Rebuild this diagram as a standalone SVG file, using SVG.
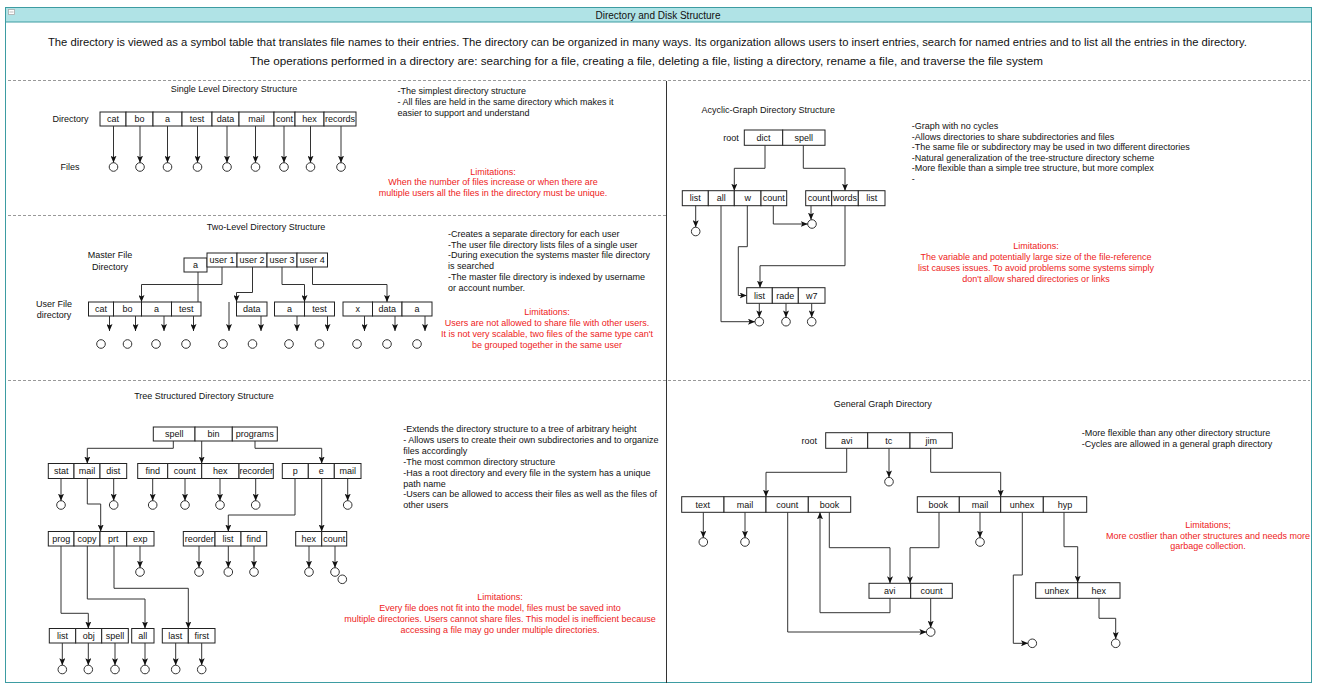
<svg xmlns="http://www.w3.org/2000/svg" width="1317" height="685" viewBox="0 0 1317 685">
<style>
text{font-family:"Liberation Sans",Arial,sans-serif}
.box{fill:#fff;stroke:#222;stroke-width:1}
.lbl{font-size:9px;fill:#111;text-anchor:middle;dominant-baseline:central}
.desc{font-size:9px;fill:#111;dominant-baseline:central}
.lim{font-size:9px;fill:#ee2222;text-anchor:middle;dominant-baseline:central}
.ttl{font-size:9px;fill:#111;text-anchor:middle;dominant-baseline:central}
.con{fill:none;stroke:#333;stroke-width:1}
.arr{marker-end:url(#ah)}
.file{fill:#fff;stroke:#333;stroke-width:1}
.sep{stroke:#999;stroke-width:1;stroke-dasharray:3 2}
.body{font-size:11.4px;fill:#111;dominant-baseline:central}
</style>
<defs>
<marker id="ah" viewBox="0 0 7 6" markerWidth="7" markerHeight="6" refX="7" refY="3" orient="auto" markerUnits="userSpaceOnUse">
<path d="M0,0 L7,3 L0,6 L1.6,3 Z" fill="#111"/>
</marker>
</defs>
<rect x="0" y="0" width="1317" height="685" fill="#fff"/>
<g id="container">
<rect x="5.5" y="7.5" width="1306" height="675" fill="#fff" stroke="#3d9ca2" stroke-width="1"/>
<rect x="5.5" y="7.5" width="1306" height="14.5" fill="#b0e3e6" stroke="#3d9ca2" stroke-width="1"/>
<rect x="8.5" y="9.5" width="6" height="5" fill="#fff" stroke="#aaa" stroke-width="0.8"/>
<line x1="9.5" y1="12" x2="13.5" y2="12" stroke="#aaa" stroke-width="0.8"/>
<text x="658" y="15" style="font-size:10px;fill:#111;text-anchor:middle;dominant-baseline:central">Directory and Disk Structure</text>
<text class="body" x="48" y="42" textLength="1199" lengthAdjust="spacingAndGlyphs">The directory is viewed as a symbol table that translates file names to their entries. The directory can be organized in many ways. Its organization allows users to insert entries, search for named entries and to list all the entries in the directory.</text>
<text class="body" x="250" y="61" textLength="793" lengthAdjust="spacingAndGlyphs">The operations performed in a directory are: searching for a file, creating a file, deleting a file, listing a directory, rename a file, and traverse the file system</text>
<line class="sep" x1="8" y1="80.5" x2="1310" y2="80.5"/>
<line class="sep" x1="8" y1="215.5" x2="666" y2="215.5"/>
<line class="sep" x1="8" y1="380.5" x2="1310" y2="380.5"/>
<line x1="666.5" y1="81" x2="666.5" y2="683" stroke="#333" stroke-width="1"/>
</g>

<!-- ============ Single Level ============ -->
<g id="single-level-text">
<text class="ttl" x="234" y="89">Single Level Directory Structure</text>
<text class="lbl" x="70.5" y="119">Directory</text>
<text class="lbl" x="70" y="167">Files</text>
<text class="desc" x="397.5" y="90.7">-The simplest directory structure</text>
<text class="desc" x="397.5" y="101.7">- All files are held in the same directory which  makes it</text>
<text class="desc" x="397.5" y="112.7">easier to support and understand</text>
<text class="lim" x="493" y="171.5">Limitations:</text>
<text class="lim" x="493" y="182.3">When the number of files increase or when there are</text>
<text class="lim" x="493" y="193.2">multiple users all the files in the directory must be unique.</text>
</g>
<g id="single-dir">
<rect class="box" x="100" y="112" width="26" height="14"/><text class="lbl" x="113" y="119">cat</text>
<rect class="box" x="126" y="112" width="27" height="14"/><text class="lbl" x="139.5" y="119">bo</text>
<rect class="box" x="153" y="112" width="29" height="14"/><text class="lbl" x="167.5" y="119">a</text>
<rect class="box" x="182" y="112" width="30" height="14"/><text class="lbl" x="197" y="119">test</text>
<rect class="box" x="212" y="112" width="27" height="14"/><text class="lbl" x="225.5" y="119">data</text>
<rect class="box" x="239" y="112" width="35" height="14"/><text class="lbl" x="256.5" y="119">mail</text>
<rect class="box" x="274" y="112" width="21" height="14"/><text class="lbl" x="284.5" y="119">cont</text>
<rect class="box" x="295" y="112" width="29" height="14"/><text class="lbl" x="309.5" y="119">hex</text>
<rect class="box" x="324" y="112" width="32" height="14"/><text class="lbl" x="340" y="119">records</text>
</g>
<g id="single-files">
<circle class="file" cx="113.5" cy="167" r="4.3"/>
<circle class="file" cx="140" cy="167" r="4.3"/>
<circle class="file" cx="167.5" cy="167" r="4.3"/>
<circle class="file" cx="197.5" cy="167" r="4.3"/>
<circle class="file" cx="227" cy="167" r="4.3"/>
<circle class="file" cx="255.5" cy="167" r="4.3"/>
<circle class="file" cx="284" cy="167" r="4.3"/>
<circle class="file" cx="310.5" cy="167" r="4.3"/>
<circle class="file" cx="341" cy="167" r="4.3"/>
</g>

<!-- ============ Two Level ============ -->
<g id="two-level-text">
<text class="ttl" x="266" y="227">Two-Level Directory Structure</text>
<text class="lbl" x="110" y="255">Master File</text>
<text class="lbl" x="110" y="266.5">Directory</text>
<text class="lbl" x="54" y="304">User File</text>
<text class="lbl" x="54" y="315">directory</text>
<text class="desc" x="448"><tspan x="448" y="234">-Creates a separate directory for each user</tspan><tspan x="448" y="244.7">-The user file directory lists files of a single user</tspan><tspan x="448" y="255.4">-During execution the systems master file directory</tspan><tspan x="448" y="266.1">is searched</tspan><tspan x="448" y="276.8">-The  master file directory is indexed by username</tspan><tspan x="448" y="287.5">or account number.</tspan></text>
<text class="lim" x="547" y="312">Limitations:</text>
<text class="lim" x="547" y="323">Users are not allowed to share file with other users.</text>
<text class="lim" x="547" y="334">It is not very scalable, two files of the same type can't</text>
<text class="lim" x="547" y="344.7">be grouped together in the same user</text>
</g>
<g id="mfd-a">
<rect class="box" x="184" y="258" width="23" height="14"/><text class="lbl" x="195.5" y="265">a</text>
</g>
<g id="mfd-users">
<rect class="box" x="207" y="253" width="30" height="14"/><text class="lbl" x="222" y="260">user 1</text>
<rect class="box" x="237" y="253" width="30" height="14"/><text class="lbl" x="252" y="260">user 2</text>
<rect class="box" x="267" y="253" width="30" height="14"/><text class="lbl" x="282" y="260">user 3</text>
<rect class="box" x="297" y="253" width="30.5" height="14"/><text class="lbl" x="312.2" y="260">user 4</text>
</g>
<g id="ufd-1">
<rect class="box" x="88.5" y="302" width="25" height="14"/><text class="lbl" x="101" y="309">cat</text>
<rect class="box" x="113.5" y="302" width="28" height="14"/><text class="lbl" x="127.5" y="309">bo</text>
<rect class="box" x="141.5" y="302" width="30" height="14"/><text class="lbl" x="156.5" y="309">a</text>
<rect class="box" x="171.5" y="302" width="29.5" height="14"/><text class="lbl" x="186.2" y="309">test</text>
</g>
<g id="ufd-2">
<rect class="box" x="236.5" y="302" width="30.5" height="14"/><text class="lbl" x="251.7" y="309">data</text>
</g>
<g id="ufd-3">
<rect class="box" x="274.5" y="302" width="30" height="14"/><text class="lbl" x="289.5" y="309">a</text>
<rect class="box" x="304.5" y="302" width="30" height="14"/><text class="lbl" x="319.5" y="309">test</text>
</g>
<g id="ufd-4">
<rect class="box" x="343" y="302" width="29.5" height="14"/><text class="lbl" x="357.7" y="309">x</text>
<rect class="box" x="372.5" y="302" width="29.5" height="14"/><text class="lbl" x="387.2" y="309">data</text>
<rect class="box" x="402" y="302" width="30" height="14"/><text class="lbl" x="417" y="309">a</text>
</g>
<g id="two-level-files">
<circle class="file" cx="101" cy="344" r="4.3"/>
<circle class="file" cx="127.5" cy="344" r="4.3"/>
<circle class="file" cx="156" cy="344" r="4.3"/>
<circle class="file" cx="186" cy="344" r="4.3"/>
<circle class="file" cx="223" cy="344" r="4.3"/>
<circle class="file" cx="252.5" cy="344" r="4.3"/>
<circle class="file" cx="289" cy="344" r="4.3"/>
<circle class="file" cx="319.5" cy="344" r="4.3"/>
<circle class="file" cx="357" cy="344" r="4.3"/>
<circle class="file" cx="387" cy="344" r="4.3"/>
<circle class="file" cx="417" cy="344" r="4.3"/>
</g>

<!-- ============ Tree ============ -->
<g id="tree-text">
<text class="ttl" x="204" y="395.5">Tree Structured Directory Structure</text>
<text class="desc" x="403.3"><tspan x="403.3" y="429">-Extends the directory structure to a tree of arbitrary height</tspan><tspan x="403.3" y="439.9">- Allows users to create their own subdirectories and to organize</tspan><tspan x="403.3" y="450.8">files accordingly</tspan><tspan x="403.3" y="461.7">-The most common directory structure</tspan><tspan x="403.3" y="472.6">-Has a root directory and every file in the system has a unique</tspan><tspan x="403.3" y="483.5">path name</tspan><tspan x="403.3" y="494.4">-Users can be allowed to access their files as well as the files of</tspan><tspan x="403.3" y="505.3">other users</tspan></text>
<text class="lim" x="500" y="596.7">Limitations:</text>
<text class="lim" x="500" y="608">Every file does not fit into the model, files must be saved into</text>
<text class="lim" x="500" y="619">multiple directories. Users cannot share files. This model is inefficient because</text>
<text class="lim" x="500" y="630">accessing a file may go under multiple directories.</text>
</g>
<g id="tree-root">
<rect class="box" x="153.3" y="427" width="41.7" height="14"/><text class="lbl" x="174.2" y="434">spell</text>
<rect class="box" x="195" y="427" width="37.3" height="14"/><text class="lbl" x="213.6" y="434">bin</text>
<rect class="box" x="232.3" y="427" width="45" height="14"/><text class="lbl" x="254.8" y="434">programs</text>
</g>
<g id="tree-spell">
<rect class="box" x="48.3" y="463.5" width="25.7" height="15"/><text class="lbl" x="61.2" y="471">stat</text>
<rect class="box" x="74" y="463.5" width="26" height="15"/><text class="lbl" x="87" y="471">mail</text>
<rect class="box" x="100" y="463.5" width="26.7" height="15"/><text class="lbl" x="113.3" y="471">dist</text>
</g>
<g id="tree-bin">
<rect class="box" x="137.7" y="463.5" width="30" height="15"/><text class="lbl" x="152.7" y="471">find</text>
<rect class="box" x="167.7" y="463.5" width="34" height="15"/><text class="lbl" x="184.7" y="471">count</text>
<rect class="box" x="201.7" y="463.5" width="37.3" height="15"/><text class="lbl" x="220.3" y="471">hex</text>
<rect class="box" x="239" y="463.5" width="34.3" height="15"/><text class="lbl" x="256.2" y="471">recorder</text>
</g>
<g id="tree-programs">
<rect class="box" x="282.3" y="463.5" width="26" height="15"/><text class="lbl" x="295.3" y="471">p</text>
<rect class="box" x="308.3" y="463.5" width="26" height="15"/><text class="lbl" x="321.3" y="471">e</text>
<rect class="box" x="334.3" y="463.5" width="26.7" height="15"/><text class="lbl" x="347.7" y="471">mail</text>
</g>
<g id="tree-mail">
<rect class="box" x="48.3" y="531.5" width="25.7" height="14.5"/><text class="lbl" x="61.2" y="538.8">prog</text>
<rect class="box" x="74" y="531.5" width="26" height="14.5"/><text class="lbl" x="87" y="538.8">copy</text>
<rect class="box" x="100" y="531.5" width="26.7" height="14.5"/><text class="lbl" x="113.3" y="538.8">prt</text>
<rect class="box" x="126.7" y="531.5" width="27.3" height="14.5"/><text class="lbl" x="140.3" y="538.8">exp</text>
</g>
<g id="tree-p">
<rect class="box" x="183.3" y="531.5" width="31.7" height="14.5"/><text class="lbl" x="199.2" y="538.8">reorder</text>
<rect class="box" x="215" y="531.5" width="26" height="14.5"/><text class="lbl" x="228" y="538.8">list</text>
<rect class="box" x="241" y="531.5" width="25.7" height="14.5"/><text class="lbl" x="253.8" y="538.8">find</text>
</g>
<g id="tree-e">
<rect class="box" x="295.7" y="531.5" width="26" height="14.5"/><text class="lbl" x="308.7" y="538.8">hex</text>
<rect class="box" x="321.7" y="531.5" width="25" height="14.5"/><text class="lbl" x="334.2" y="538.8">count</text>
</g>
<g id="tree-prog">
<rect class="box" x="49.3" y="628.5" width="26.4" height="14.5"/><text class="lbl" x="62.5" y="635.8">list</text>
<rect class="box" x="75.7" y="628.5" width="26" height="14.5"/><text class="lbl" x="88.7" y="635.8">obj</text>
<rect class="box" x="101.7" y="628.5" width="26.6" height="14.5"/><text class="lbl" x="115" y="635.8">spell</text>
</g>
<g id="tree-copy">
<rect class="box" x="131.7" y="628.5" width="22.3" height="14.5"/><text class="lbl" x="142.8" y="635.8">all</text>
</g>
<g id="tree-prt">
<rect class="box" x="162.3" y="628.5" width="26" height="14.5"/><text class="lbl" x="175.3" y="635.8">last</text>
<rect class="box" x="188.3" y="628.5" width="26.7" height="14.5"/><text class="lbl" x="201.7" y="635.8">first</text>
</g>
<g id="tree-files">
<circle class="file" cx="61" cy="505" r="4.3"/>
<circle class="file" cx="113.7" cy="505" r="4.3"/>
<circle class="file" cx="152.7" cy="505" r="4.3"/>
<circle class="file" cx="185" cy="505" r="4.3"/>
<circle class="file" cx="220" cy="505" r="4.3"/>
<circle class="file" cx="255.7" cy="505" r="4.3"/>
<circle class="file" cx="347.7" cy="505" r="4.3"/>
<circle class="file" cx="140" cy="572" r="4.3"/>
<circle class="file" cx="199" cy="572" r="4.3"/>
<circle class="file" cx="228.3" cy="572" r="4.3"/>
<circle class="file" cx="254" cy="572" r="4.3"/>
<circle class="file" cx="309" cy="572" r="4.3"/>
<circle class="file" cx="335" cy="572" r="4.3"/>
<circle class="file" cx="342.3" cy="579.3" r="4.3"/>
<circle class="file" cx="62.3" cy="669.5" r="4.3"/>
<circle class="file" cx="88.3" cy="669.5" r="4.3"/>
<circle class="file" cx="115" cy="669.5" r="4.3"/>
<circle class="file" cx="145" cy="669.5" r="4.3"/>
<circle class="file" cx="175.7" cy="669.5" r="4.3"/>
<circle class="file" cx="201.7" cy="669.5" r="4.3"/>
</g>

<!-- ============ Acyclic ============ -->
<g id="acyclic-text">
<text class="ttl" x="768.3" y="110">Acyclic-Graph Directory Structure</text>
<text class="lbl" x="731" y="137.7">root</text>
<text class="desc" x="911.7"><tspan x="911.7" y="126">-Graph with no cycles</tspan><tspan x="911.7" y="136.6">-Allows directories to share subdirectories and files</tspan><tspan x="911.7" y="147.2">-The same file or subdirectory may be used in two different directories</tspan><tspan x="911.7" y="157.8">-Natural generalization of the tree-structure directory scheme</tspan><tspan x="911.7" y="168.4">-More flexible than a simple tree structure, but more complex</tspan><tspan x="911.7" y="179">-</tspan></text>
<text class="lim" x="1036" y="246">Limitations:</text>
<text class="lim" x="1036" y="257.2">The variable and potentially large size of the file-reference</text>
<text class="lim" x="1036" y="268.2">list causes issues. To avoid problems some systems simply</text>
<text class="lim" x="1036" y="279">don't allow shared directories or links</text>
</g>
<g id="acyclic-root">
<rect class="box" x="744.3" y="130" width="38.4" height="15.3"/><text class="lbl" x="763.5" y="137.7">dict</text>
<rect class="box" x="782.7" y="130" width="42.3" height="15.3"/><text class="lbl" x="803.8" y="137.7">spell</text>
</g>
<g id="acyclic-dict">
<rect class="box" x="682.3" y="190.7" width="26" height="15"/><text class="lbl" x="695.3" y="198.2">list</text>
<rect class="box" x="708.3" y="190.7" width="26" height="15"/><text class="lbl" x="721.3" y="198.2">all</text>
<rect class="box" x="734.3" y="190.7" width="26.7" height="15"/><text class="lbl" x="747.7" y="198.2">w</text>
<rect class="box" x="761" y="190.7" width="25.7" height="15"/><text class="lbl" x="773.8" y="198.2">count</text>
</g>
<g id="acyclic-spell">
<rect class="box" x="805.7" y="190.7" width="26" height="15"/><text class="lbl" x="818.7" y="198.2">count</text>
<rect class="box" x="831.7" y="190.7" width="26.6" height="15"/><text class="lbl" x="845" y="198.2">words</text>
<rect class="box" x="858.3" y="190.7" width="26.7" height="15"/><text class="lbl" x="871.7" y="198.2">list</text>
</g>
<g id="acyclic-shared">
<rect class="box" x="746.7" y="287.7" width="25.6" height="15.6"/><text class="lbl" x="759.5" y="295.5">list</text>
<rect class="box" x="772.3" y="287.7" width="26" height="15.6"/><text class="lbl" x="785.3" y="295.5">rade</text>
<rect class="box" x="798.3" y="287.7" width="26.7" height="15.6"/><text class="lbl" x="811.7" y="295.5">w7</text>
</g>
<g id="acyclic-files">
<circle class="file" cx="695.7" cy="231.5" r="4.3"/>
<circle class="file" cx="812" cy="224" r="4.3"/>
<circle class="file" cx="759.3" cy="321.7" r="4.3"/>
<circle class="file" cx="786" cy="321.7" r="4.3"/>
<circle class="file" cx="811.7" cy="321.7" r="4.3"/>
</g>

<!-- ============ General Graph ============ -->
<g id="general-text">
<text class="ttl" x="882.8" y="404">General Graph Directory</text>
<text class="lbl" x="809.3" y="441">root</text>
<text class="desc" x="1081.7" y="433.3">-More flexible than any other directory structure</text>
<text class="desc" x="1081.7" y="444.3">-Cycles are allowed in a general graph directory</text>
<text class="lim" x="1208" y="525">Limitations;</text>
<text class="lim" x="1208" y="535.7">More costlier than other structures and needs more</text>
<text class="lim" x="1208" y="546">garbage collection.</text>
</g>
<g id="general-root">
<rect class="box" x="825.7" y="432.7" width="42" height="15.6"/><text class="lbl" x="846.7" y="440.5">avi</text>
<rect class="box" x="867.7" y="432.7" width="42.3" height="15.6"/><text class="lbl" x="888.8" y="440.5">tc</text>
<rect class="box" x="910" y="432.7" width="42.3" height="15.6"/><text class="lbl" x="931.2" y="440.5">jim</text>
</g>
<g id="general-avi">
<rect class="box" x="681.7" y="496.7" width="42.3" height="15.6"/><text class="lbl" x="702.8" y="504.5">text</text>
<rect class="box" x="724" y="496.7" width="42" height="15.6"/><text class="lbl" x="745" y="504.5">mail</text>
<rect class="box" x="766" y="496.7" width="42.3" height="15.6"/><text class="lbl" x="787.2" y="504.5">count</text>
<rect class="box" x="808.3" y="496.7" width="42.4" height="15.6"/><text class="lbl" x="829.5" y="504.5">book</text>
</g>
<g id="general-jim">
<rect class="box" x="917.3" y="496.7" width="42" height="15.6"/><text class="lbl" x="938.3" y="504.5">book</text>
<rect class="box" x="959.3" y="496.7" width="41.4" height="15.6"/><text class="lbl" x="980" y="504.5">mail</text>
<rect class="box" x="1000.7" y="496.7" width="42.6" height="15.6"/><text class="lbl" x="1022" y="504.5">unhex</text>
<rect class="box" x="1043.3" y="496.7" width="43.4" height="15.6"/><text class="lbl" x="1065" y="504.5">hyp</text>
</g>
<g id="general-book">
<rect class="box" x="869" y="583.3" width="41.7" height="15"/><text class="lbl" x="889.8" y="590.8">avi</text>
<rect class="box" x="910.7" y="583.3" width="41.6" height="15"/><text class="lbl" x="931.5" y="590.8">count</text>
</g>
<g id="general-hyp">
<rect class="box" x="1035.7" y="582.7" width="42" height="15.6"/><text class="lbl" x="1056.7" y="590.5">unhex</text>
<rect class="box" x="1077.7" y="582.7" width="42.3" height="15.6"/><text class="lbl" x="1098.8" y="590.5">hex</text>
</g>
<g id="general-files">
<circle class="file" cx="889" cy="481.7" r="4.3"/>
<circle class="file" cx="703.3" cy="542" r="4.3"/>
<circle class="file" cx="745" cy="542" r="4.3"/>
<circle class="file" cx="980" cy="542" r="4.3"/>
<circle class="file" cx="930.7" cy="632" r="4.3"/>
<circle class="file" cx="1032.3" cy="643.3" r="4.3"/>
<circle class="file" cx="1115.7" cy="643.3" r="4.3"/>
</g>

<!-- ============ Connectors ============ -->
<g id="connectors">
<!-- single level -->
<path class="con arr" d="M113.5,126 V162.7"/>
<path class="con arr" d="M140,126 V162.7"/>
<path class="con arr" d="M167.5,126 V162.7"/>
<path class="con arr" d="M197.5,126 V162.7"/>
<path class="con arr" d="M227,126 V162.7"/>
<path class="con arr" d="M255.5,126 V162.7"/>
<path class="con arr" d="M284,126 V162.7"/>
<path class="con arr" d="M310.5,126 V162.7"/>
<path class="con arr" d="M341,126 V162.7"/>
<!-- two level -->
<path class="con" d="M198,272 V302"/>
<path class="con arr" d="M229,302 V331"/>
<path class="con arr" d="M222,267 V284.5 H141.5 V302"/>
<path class="con arr" d="M252.5,267 V292.5 H236.5 V302"/>
<path class="con arr" d="M282,267 V284.5 H304.5 V302"/>
<path class="con arr" d="M312.5,267 V284.5 H387 V302"/>
<path class="con arr" d="M109.5,316 V331"/>
<path class="con arr" d="M135.5,316 V331"/>
<path class="con arr" d="M164,316 V331"/>
<path class="con arr" d="M193.5,316 V331"/>
<path class="con arr" d="M261,316 V331"/>
<path class="con arr" d="M297,316 V331"/>
<path class="con arr" d="M327.5,316 V331"/>
<path class="con arr" d="M364.5,316 V331"/>
<path class="con arr" d="M395,316 V331"/>
<path class="con arr" d="M425,316 V331"/>
<!-- tree -->
<path class="con arr" d="M173.3,441 V448.3 H87.3 V463.5"/>
<path class="con arr" d="M201.7,441 V463.5"/>
<path class="con arr" d="M255,441 V448.3 H321.7 V463.5"/>
<path class="con arr" d="M61,478.5 V500.7"/>
<path class="con arr" d="M113.7,478.5 V500.7"/>
<path class="con arr" d="M152.7,478.5 V500.7"/>
<path class="con arr" d="M185,478.5 V500.7"/>
<path class="con arr" d="M220,478.5 V500.7"/>
<path class="con arr" d="M255.7,478.5 V500.7"/>
<path class="con arr" d="M347.7,478.5 V500.7"/>
<path class="con arr" d="M87.3,478.5 V504 H100.7 V531.5"/>
<path class="con arr" d="M295,478.5 V515 H228.3 V531.5"/>
<path class="con arr" d="M321.7,478.5 V531.5"/>
<path class="con arr" d="M140,546 V567.7"/>
<path class="con arr" d="M199,546 V567.7"/>
<path class="con arr" d="M228.3,546 V567.7"/>
<path class="con arr" d="M254,546 V567.7"/>
<path class="con arr" d="M309,546 V567.7"/>
<path class="con arr" d="M335,546 V567.7"/>
<path class="con arr" d="M61,546 V613.3 H88.3 V628.5"/>
<path class="con arr" d="M87.3,546 V599 H145 V628.5"/>
<path class="con arr" d="M114,546 V588.3 H188.3 V628.5"/>
<path class="con arr" d="M62.3,643 V665.2"/>
<path class="con arr" d="M88.3,643 V665.2"/>
<path class="con arr" d="M115,643 V665.2"/>
<path class="con arr" d="M145,643 V665.2"/>
<path class="con arr" d="M175.7,643 V665.2"/>
<path class="con arr" d="M201.7,643 V665.2"/>
<!-- acyclic -->
<path class="con arr" d="M765,145.3 V168.3 H734.3 V190.7"/>
<path class="con arr" d="M803.3,145.3 V168.3 H845 V190.7"/>
<path class="con arr" d="M695.7,205.7 V227.2"/>
<path class="con arr" d="M773.3,205.7 V224 H807.7"/>
<path class="con arr" d="M811,205.7 V219.7"/>
<path class="con arr" d="M845,205.7 V265.7 H760 V287.7"/>
<path class="con arr" d="M747.3,205.7 V246.7 H738.3 V295.5 H746.7"/>
<path class="con arr" d="M721,205.7 V321.7 H755"/>
<path class="con arr" d="M759.3,303.3 V317.4"/>
<path class="con arr" d="M786,303.3 V317.4"/>
<path class="con arr" d="M811.7,303.3 V317.4"/>
<!-- general graph -->
<path class="con arr" d="M889,448.3 V477.4"/>
<path class="con arr" d="M846.7,448.3 V472.3 H766 V496.7"/>
<path class="con arr" d="M930.7,448.3 V472.3 H1000.7 V496.7"/>
<path class="con arr" d="M703.3,512.3 V537.7"/>
<path class="con arr" d="M745,512.3 V537.7"/>
<path class="con arr" d="M980,512.3 V537.7"/>
<path class="con arr" d="M787.7,512.3 V632 H926.4"/>
<path class="con arr" d="M829.3,512.3 V547.7 H890 V583.3"/>
<path class="con arr" d="M939,512.3 V547.7 H910 V583.3"/>
<path class="con arr" d="M890,598.3 V612.7 H820 V512.3"/>
<path class="con arr" d="M930.7,598.3 V627.7"/>
<path class="con arr" d="M1022.3,512.3 V575 H1013.3 V643.3 H1028"/>
<path class="con arr" d="M1064,512.3 V546.7 H1077.7 V582.7"/>
<path class="con arr" d="M1099,598.3 V618.3 H1115.7 V639"/>
</g>
</svg>
